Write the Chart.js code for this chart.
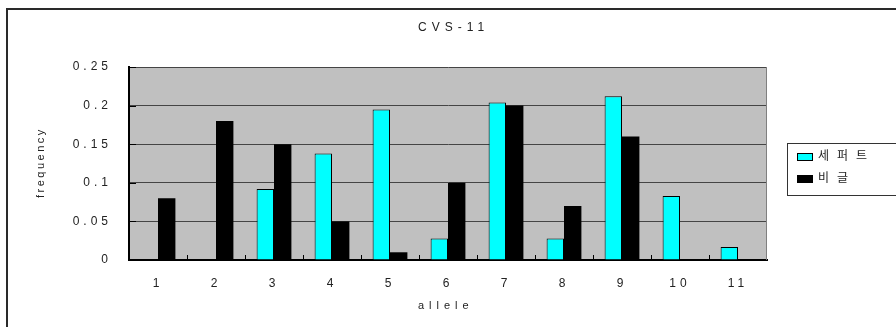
<!DOCTYPE html>
<html>
<head>
<meta charset="utf-8">
<script src="https://cdn.jsdelivr.net/npm/chart.js@4"></script>
<style>
  html, body { margin: 0; padding: 0; background: #fff; overflow: hidden; }
  canvas { display: block; }
</style>
</head>
<body>
<canvas id="chart" width="896" height="327"></canvas>
<script>
const categories = ['1', '2', '3', '4', '5', '6', '7', '8', '9', '10', '11'];
const shepherd = [0, 0, 0.092, 0.138, 0.195, 0.028, 0.204, 0.028, 0.212, 0.083, 0.017];
const beagle = [0.08, 0.18, 0.15, 0.05, 0.01, 0.1, 0.2, 0.07, 0.16, 0, 0];
const yTickLabels = ['0', '0.05', '0.1', '0.15', '0.2', '0.25'];

const FONT = '"Liberation Sans", "Noto Sans CJK KR", sans-serif';
const INK = '#222';

// spaced-out lettering like the old spreadsheet export
const spacing = {
    id: 'spacing',
    beforeUpdate(chart) { chart.ctx.letterSpacing = '4px'; },
    beforeDraw(chart) { chart.ctx.letterSpacing = '4px'; }
};

// outer frame, grey plot background and lighter right edge
const plotBg = {
    id: 'plotBg',
    beforeDraw(chart) {
        const {ctx, chartArea: a, width, height} = chart;
        ctx.save();
        ctx.fillStyle = '#c0c0c0';
        ctx.fillRect(a.left, a.top, a.right - a.left, a.bottom - a.top);
        ctx.strokeStyle = '#2a2a2a';
        ctx.lineWidth = 2;
        ctx.beginPath();
        ctx.moveTo(7, height);
        ctx.lineTo(7, 9);
        ctx.lineTo(width, 9);
        ctx.stroke();
        ctx.restore();
    },
    afterDraw(chart) {
        const {ctx, chartArea: a} = chart;
        ctx.save();
        ctx.strokeStyle = '#808080';
        ctx.lineWidth = 1;
        ctx.beginPath();
        ctx.moveTo(a.right - 0.5, a.top);
        ctx.lineTo(a.right - 0.5, a.bottom);
        ctx.stroke();
        ctx.restore();
    }
};

// tick marks pointing into the plot
const innerTicks = {
    id: 'innerTicks',
    afterDraw(chart) {
        const {ctx, chartArea: a, scales} = chart;
        ctx.save();
        ctx.strokeStyle = '#000';
        ctx.lineWidth = 1;
        ctx.beginPath();
        scales.y.ticks.forEach(t => {
            const py = Math.round(scales.y.getPixelForValue(t.value)) + 0.5;
            ctx.moveTo(a.left, py);
            ctx.lineTo(a.left + 7, py);
        });
        for (let i = 0; i < categories.length - 1; i++) {
            const px = Math.round((scales.x.getPixelForValue(i) + scales.x.getPixelForValue(i + 1)) / 2) + 0.5;
            ctx.moveTo(px, a.bottom);
            ctx.lineTo(px, a.bottom - 5);
        }
        ctx.stroke();
        ctx.restore();
    }
};

// chart title and axis titles, each with its own letter spacing
const titles = {
    id: 'titles',
    afterDraw(chart) {
        const ctx = chart.ctx;
        ctx.save();
        ctx.fillStyle = INK;
        ctx.textBaseline = 'middle';
        ctx.textAlign = 'left';

        ctx.font = '12px ' + FONT;
        ctx.letterSpacing = '5px';
        ctx.fillText('CVS-11', 418, 28);

        ctx.font = '11px ' + FONT;
        ctx.letterSpacing = '5px';
        ctx.fillText('allele', 418, 306);

        ctx.letterSpacing = '2.5px';
        ctx.translate(41, 198);
        ctx.rotate(-Math.PI / 2);
        ctx.fillText('frequency', 0, 0);
        ctx.restore();
    }
};

// boxed legend on the right
const boxLegend = {
    id: 'boxLegend',
    afterDraw(chart) {
        const ctx = chart.ctx;
        ctx.save();
        ctx.strokeStyle = '#333';
        ctx.lineWidth = 1;
        ctx.strokeRect(787.5, 143.5, 140, 52);
        ctx.font = '12px ' + FONT;
        ctx.letterSpacing = '8px';
        ctx.textBaseline = 'middle';
        chart.data.datasets.forEach((ds, i) => {
            const y = 153 + i * 22;
            ctx.fillStyle = ds.backgroundColor;
            ctx.fillRect(797, y, 16, 8);
            ctx.strokeStyle = '#000';
            ctx.strokeRect(797.5, y + 0.5, 15, 7);
            ctx.fillStyle = INK;
            ctx.fillText(ds.label, 818, y + 4);
        });
        ctx.restore();
    }
};

new Chart(document.getElementById('chart'), {
    type: 'bar',
    data: {
        labels: categories,
        datasets: [
            {
                label: '세퍼트',
                data: shepherd,
                backgroundColor: '#00ffff',
                borderColor: '#000',
                borderWidth: 1,
                borderSkipped: 'bottom'
            },
            {
                label: '비글',
                data: beagle,
                backgroundColor: '#000000',
                borderColor: '#000',
                borderWidth: 0
            }
        ]
    },
    options: {
        responsive: false,
        animation: false,
        events: [],
        categoryPercentage: 0.6,
        barPercentage: 1.0,
        layout: { padding: { left: 0, right: 129, top: 67, bottom: 0 } },
        plugins: {
            legend: { display: false },
            tooltip: { enabled: false },
            title: { display: false }
        },
        scales: {
            x: {
                grid: { display: false, drawTicks: false },
                border: { display: true, color: '#000', width: 2 },
                ticks: { color: INK, padding: 16, font: { family: FONT, size: 12 }, maxRotation: 0 },
                afterFit(s) { s.height = 67; }
            },
            y: {
                min: 0,
                max: 0.25,
                grid: { color: '#454545', lineWidth: 1, drawTicks: false },
                border: { display: true, color: '#000', width: 2 },
                ticks: {
                    stepSize: 0.05,
                    color: INK,
                    padding: 17,
                    font: { family: FONT, size: 12 },
                    callback: (v, i) => yTickLabels[i]
                },
                afterFit(s) { s.width = 129; }
            }
        }
    },
    plugins: [spacing, plotBg, innerTicks, titles, boxLegend]
});
</script>
</body>
</html>
